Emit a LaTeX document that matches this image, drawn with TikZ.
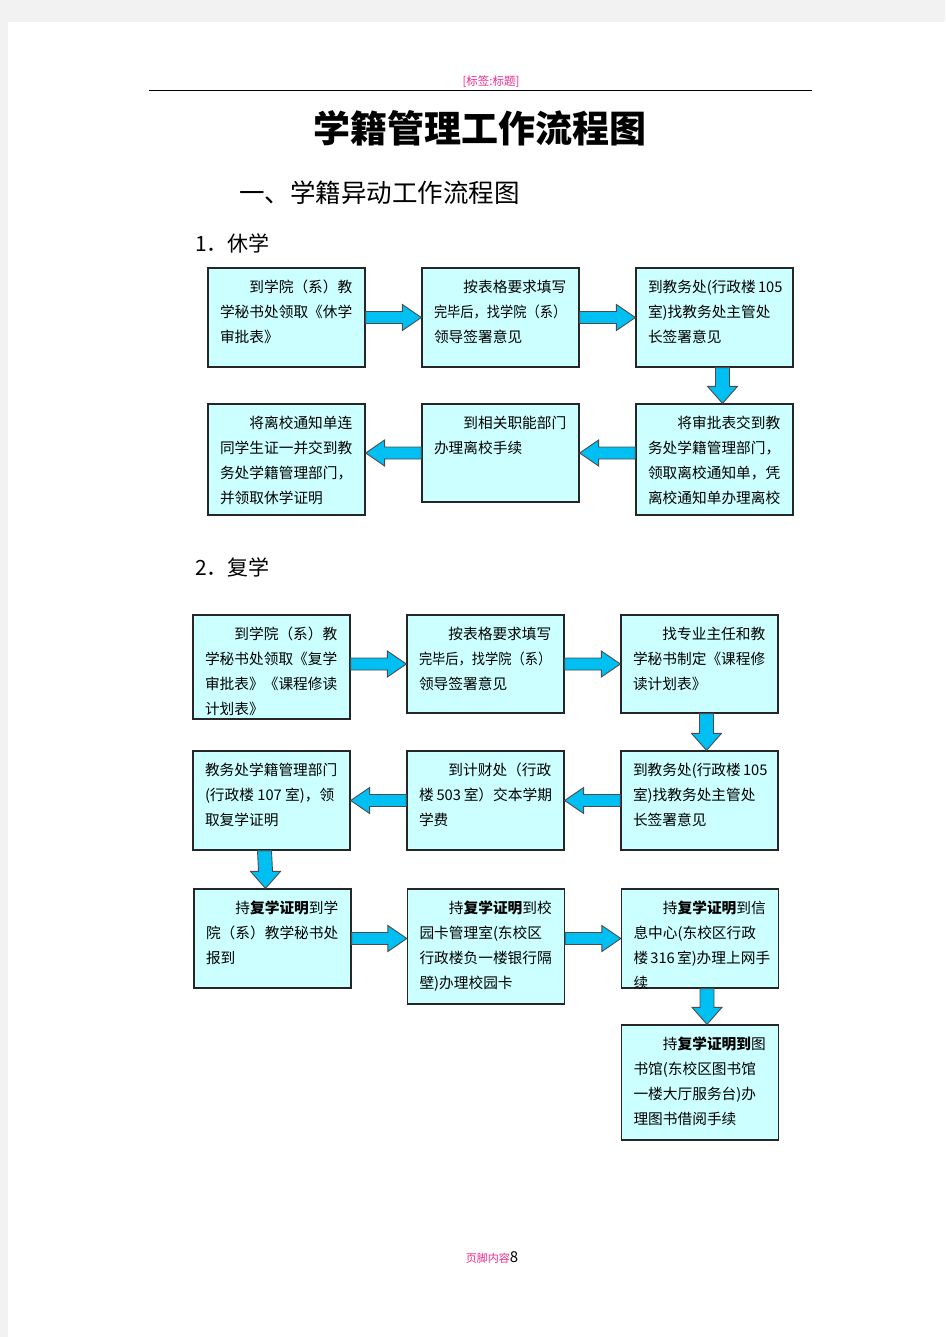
\documentclass[tikz,border=0pt]{standalone}
\usepackage{fontspec}
\usepackage{graphicx}
\setmainfont{Noto Sans CJK SC}
\usetikzlibrary{calc}

\definecolor{boxcyan}{RGB}{204,255,255}
\definecolor{arrowblue}{RGB}{0,191,243}
\definecolor{tagpink}{RGB}{240,40,140}
\definecolor{pagegray}{RGB}{242,242,242}

% text of one box: height, lines
\newcommand\flowtext[2]{\parbox[c][#1][t]{133pt}{\raggedright\fontsize{14.7}{24.8}\selectfont\rule{0pt}{24.6pt}#2}}
\newcommand\firstindent{\hspace*{2em}}
\newcommand\squeezed[1]{\scalebox{0.9}[1]{#1}}

% fat arrows between boxes: from, to, node giving the level (or x shift)
\newcommand\flowR[3]{%
  \coordinate (s) at (#1.east |- #3.center);
  \coordinate (t) at (#2.west |- #3.center);
  \draw[fatarrow] ($(s)+(0,-6)$) -- ($(t)+(-19,-6)$) -- ($(t)+(-19,-13)$) -- (t)
    -- ($(t)+(-19,13)$) -- ($(t)+(-19,6)$) -- ($(s)+(0,6)$) -- cycle;}
\newcommand\flowL[3]{%
  \coordinate (s) at (#1.west |- #3.center);
  \coordinate (t) at (#2.east |- #3.center);
  \draw[fatarrow] ($(s)+(0,-6)$) -- ($(t)+(19,-6)$) -- ($(t)+(19,-13)$) -- (t)
    -- ($(t)+(19,13)$) -- ($(t)+(19,6)$) -- ($(s)+(0,6)$) -- cycle;}
\newcommand\flowD[3]{%
  \coordinate (s) at ($(#1.south)+(#3,0)$);
  \coordinate (t) at ($(#2.north)+(#3,0)$);
  \draw[fatarrow] ($(s)+(-7,0)$) -- ($(t)+(-7,-17)$) -- ($(t)+(-15,-17)$) -- (t)
    -- ($(t)+(15,-17)$) -- ($(t)+(7,-17)$) -- ($(s)+(7,0)$) -- cycle;}

\begin{document}
\begin{tikzpicture}[x=1pt,y=-1pt,
    box/.style={draw=black!85,line width=1.3pt,fill=boxcyan,minimum width=157pt,inner sep=0pt},
    fatarrow/.style={fill=arrowblue,draw=black!70,line width=0.9pt,line join=miter}]
        % the page
        \useasboundingbox (0,0) rectangle (945,1337);
        \fill[pagegray] (0,0) rectangle (945,1337);
        \fill[white] (8,22) rectangle (945,1337);

        % header and titles
        \node[text=tagpink,font=\fontsize{11.5}{12}\selectfont] (tag) at (491,82) {[标签:标题]};
        \draw[line width=1pt] (149,91) -- (812,91);
        \node[font=\fontsize{37}{40}\selectfont\bfseries] (title) at (480,128) {学籍管理工作流程图};
        \node[anchor=west,inner sep=0pt,font=\fontsize{25.5}{28}\selectfont] (head) at (239,193) {一、学籍异动工作流程图};
        \node[anchor=west,inner sep=0pt,font=\fontsize{21}{24}\selectfont] (leave) at (195,243) {1．休学};
        \node[anchor=west,inner sep=0pt,font=\fontsize{21}{24}\selectfont] (resume) at (195,567) {2．复学};

        % 1. the boxes for leaving
        \node[box] (l1) at (286.5,317.5) {\flowtext{99pt}{\firstindent 到学院（系）教\\学秘书处领取《休学\\审批表》}};
        \node[box] (l2) at (500.5,317.5) {\flowtext{99pt}{\firstindent 按表格要求填写\\\squeezed{完毕后，找学院（系）}\\领导签署意见}};
        \node[box] (l3) at (714.5,317.5) {\flowtext{99pt}{到教务处(行政楼~105\\室)找教务处主管处\\长签署意见}};
        \node[box] (l4) at (714.5,459.5) {\flowtext{111pt}{\firstindent 将审批表交到教\\务处学籍管理部门，\\领取离校通知单，凭\\离校通知单办理离校}};
        \node[box] (l5) at (500.5,453) {\flowtext{98pt}{\firstindent 到相关职能部门\\办理离校手续}};
        \node[box] (l6) at (286.5,459.5) {\flowtext{111pt}{\firstindent 将离校通知单连\\同学生证一并交到教\\务处学籍管理部门，\\并领取休学证明}};

        % 2. the boxes for coming back
        \node[box] (r1) at (271.5,667) {\flowtext{104pt}{\firstindent 到学院（系）教\\学秘书处领取《复学\\审批表》《课程修读\\计划表》}};
        \node[box] (r2) at (485.5,664) {\flowtext{98pt}{\firstindent 按表格要求填写\\\squeezed{完毕后，找学院（系）}\\领导签署意见}};
        \node[box] (r3) at (699.5,664) {\flowtext{98pt}{\firstindent 找专业主任和教\\学秘书制定《课程修\\读计划表》}};
        \node[box] (r4) at (699.5,800.5) {\flowtext{99pt}{到教务处(行政楼~105\\室)找教务处主管处\\长签署意见}};
        \node[box] (r5) at (485.5,800.5) {\flowtext{99pt}{\firstindent 到计财处（行政\\楼~503~室）交本学期\\学费}};
        \node[box] (r6) at (271.5,800.5) {\flowtext{99pt}{教务处学籍管理部门\\(行政楼~107~室)，领\\取复学证明}};
        \node[box] (r7) at (272.5,938.5) {\flowtext{99pt}{\firstindent 持\textbf{复学证明}到学\\院（系）教学秘书处\\报到}};
        \node[box] (r8) at (486,946.5) {\flowtext{115pt}{\firstindent 持\textbf{复学证明}到校\\园卡管理室(东校区\\行政楼负一楼银行隔\\壁)办理校园卡}};
        \node[box] (r9) at (700,938.5) {\flowtext{99pt}{\firstindent 持\textbf{复学证明}到信\\息中心(东校区行政\\楼~316~室)办理上网手\\续}};
        \node[box] (r10) at (700,1082.5) {\flowtext{115pt}{\firstindent 持\textbf{复学证明到}图\\书馆(东校区图书馆\\一楼大厅服务台)办\\理图书借阅手续}};

        % the arrows
        \foreach \a/\b/\c in {l1/l2/l1, l2/l3/l2, r1/r2/r2, r2/r3/r2, r7/r8/r7, r8/r9/r9}
                \flowR{\a}{\b}{\c};
        \foreach \a/\b/\c in {l4/l5/l5, l5/l6/l5, r4/r5/r5, r5/r6/r5}
                \flowL{\a}{\b}{\c};
        \foreach \a/\b/\c in {l3/l4/8, r3/r4/7, r6/r7/-7, r9/r10/7}
                \flowD{\a}{\b}{\c};

        % footer
        \node (foot) at (492,1257) {\textcolor{tagpink}{\fontsize{11}{12}\selectfont 页脚内容}\fontsize{15}{16}\selectfont 8};
\end{tikzpicture}
\end{document}
